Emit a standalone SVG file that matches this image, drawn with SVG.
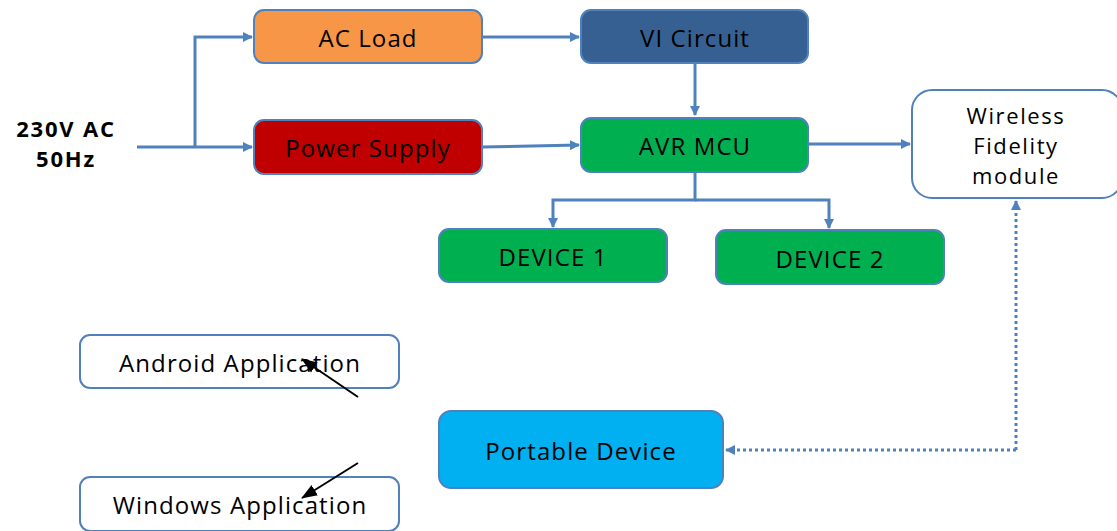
<svg xmlns="http://www.w3.org/2000/svg" width="1117" height="531" viewBox="0 0 1117 531">
<defs>
<style>
.n{stroke:#4F81BD;stroke-width:2}
.t{font-family:"Open Sans","Liberation Sans",sans-serif;font-size:24px;letter-spacing:1.1px;fill:#000;text-anchor:middle;dominant-baseline:central}
.m{font-size:22px;letter-spacing:1.6px}
.h{font-weight:bold;font-size:22px;letter-spacing:1.8px}
.c{fill:none;stroke:#4F81BD;stroke-width:3}
.d{fill:none;stroke:#4F81BD;stroke-width:3;stroke-dasharray:3 3}
.k{fill:none;stroke:#000;stroke-width:2}
</style>
<marker id="a" markerWidth="10" markerHeight="10" refX="9" refY="5" orient="auto" markerUnits="userSpaceOnUse">
<path d="M0,0 L10,5 L0,10 Z" fill="#4F81BD"/>
</marker>
<marker id="b" markerWidth="16" markerHeight="14" refX="15" refY="7" orient="auto" markerUnits="userSpaceOnUse">
<path d="M0,1 L16,7 L0,13 Z" fill="#000"/>
</marker>
</defs>
<rect width="1117" height="531" fill="#fff"/>
<g id="input">
<text class="t h" x="66" y="128">230V AC</text>
<text class="t h" x="66" y="158">50Hz</text>
</g>
<g id="ac-load">
<rect class="n" x="254" y="10" width="228" height="53" rx="10" fill="#F79646"/>
<text class="t" x="368" y="37">AC Load</text>
</g>
<g id="vi-circuit">
<rect class="n" x="581" y="10" width="227" height="53" rx="10" fill="#376092"/>
<text class="t" x="695" y="37">VI Circuit</text>
</g>
<g id="power-supply">
<rect class="n" x="254" y="120" width="228" height="54" rx="10" fill="#C00000"/>
<text class="t" x="368" y="147">Power Supply</text>
</g>
<g id="avr-mcu">
<rect class="n" x="581" y="118" width="227" height="54" rx="10" fill="#00B050"/>
<text class="t" x="695" y="145">AVR MCU</text>
</g>
<g id="wifi">
<rect class="n" x="912" y="90" width="210" height="108" rx="20" fill="#fff"/>
<text class="t m" x="1016" y="115">Wireless</text>
<text class="t m" x="1016" y="145">Fidelity</text>
<text class="t m" x="1016" y="175">module</text>
</g>
<g id="device1">
<rect class="n" x="439" y="229" width="228" height="53" rx="10" fill="#00B050"/>
<text class="t" x="553" y="256">DEVICE 1</text>
</g>
<g id="device2">
<rect class="n" x="716" y="230" width="228" height="54" rx="10" fill="#00B050"/>
<text class="t" x="830" y="258">DEVICE 2</text>
</g>
<g id="android">
<rect class="n" x="80" y="335" width="319" height="53" rx="10" fill="#fff"/>
<text class="t" x="240" y="362">Android Application</text>
</g>
<g id="windows">
<rect class="n" x="80" y="477" width="319" height="54" rx="10" fill="#fff"/>
<text class="t" x="240" y="504">Windows Application</text>
</g>
<g id="portable">
<rect class="n" x="439" y="411" width="284" height="77" rx="12" fill="#00B0F0"/>
<text class="t" x="581" y="450">Portable Device</text>
</g>
<g id="connectors">
<path class="c" d="M137,147 H252" marker-end="url(#a)"/>
<path class="c" d="M195,147 V37 H252" marker-end="url(#a)"/>
<path class="c" d="M482,37 H579" marker-end="url(#a)"/>
<path class="c" d="M482,147 L579,145" marker-end="url(#a)"/>
<path class="c" d="M695,63 V115" marker-end="url(#a)"/>
<path class="c" d="M808,144 H910" marker-end="url(#a)"/>
<path class="c" d="M695,172 V200 H553 V227" marker-end="url(#a)"/>
<path class="c" d="M695,200 H829 V228" marker-end="url(#a)"/>
<path class="d" d="M1016,450 H726" marker-end="url(#a)"/>
<path class="d" d="M1016,450 V201" marker-end="url(#a)"/>
<path class="k" d="M358,397 L302,359" marker-end="url(#b)"/>
<path class="k" d="M358,463 L302,498" marker-end="url(#b)"/>
</g>
</svg>
